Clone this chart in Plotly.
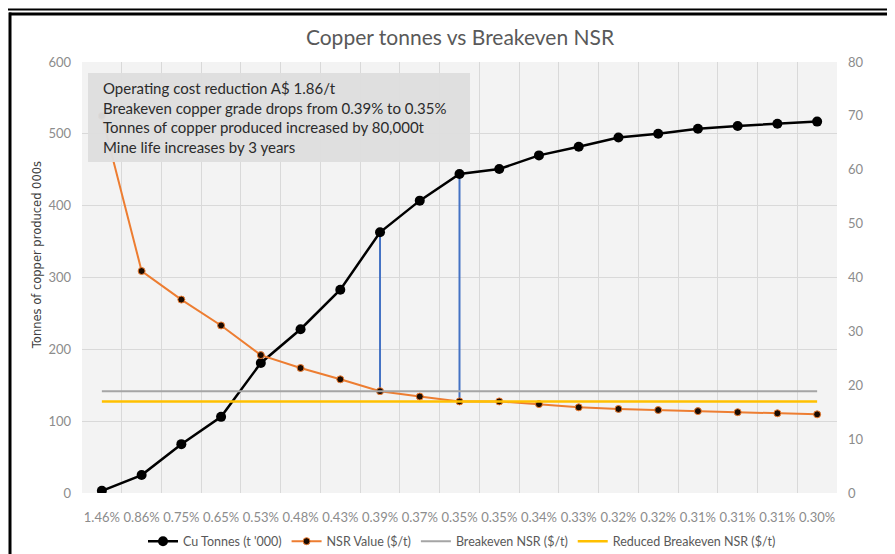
import plotly.graph_objects as go

grades = ["1.46%", "0.86%", "0.75%", "0.65%", "0.53%", "0.48%", "0.43%", "0.39%", "0.37%", "0.35%",
          "0.35%", "0.34%", "0.33%", "0.32%", "0.32%", "0.31%", "0.31%", "0.31%", "0.30%"]
cu_tonnes = [3, 25, 68, 106, 181, 228, 283, 363, 407, 444, 451, 470, 482, 495, 500, 507, 511, 514, 517]
nsr_value = [70, 41.2, 35.9, 31.1, 25.6, 23.2, 21.1, 18.9, 17.9, 17.0, 17.0, 16.5, 15.9, 15.6, 15.4, 15.2, 15.0, 14.8, 14.6]
breakeven_nsr = 18.9
reduced_nsr = 17.0
# grade points where the breakeven lines cross NSR (index into grades)
drop_idx = [7, 9]

x = list(range(len(grades)))

# page has an 8px body margin, so work in page pixels and shift
OFF = 8
W, H = 887, 560
L, R, T, B = 82 - OFF, W - (837 - OFF), 62 - OFF, H - (497 - OFF)
ratio = 600 / 80  # left axis units per right axis unit

def px(X):
    return (X - OFF - L) / (W - L - R)

def py(Y):
    return (H - B - (Y - OFF)) / (H - T - B)

fig = go.Figure()

# blue drop lines from NSR point up to Cu tonnes point
for i in drop_idx:
    fig.add_trace(go.Scatter(x=[x[i], x[i]], y=[nsr_value[i] * ratio, cu_tonnes[i]], mode='lines',
                             line=dict(color='#4472C4', width=2), showlegend=False, hoverinfo='skip'))

fig.add_trace(go.Scatter(x=x, y=cu_tonnes, mode='lines+markers', name="Cu Tonnes (t '000)",
                         line=dict(color='black', width=2.5), marker=dict(color='black', size=10)))
fig.add_trace(go.Scatter(x=x, y=nsr_value, mode='lines+markers', name="NSR Value ($/t)", yaxis='y2',
                         line=dict(color='#ED7D31', width=2),
                         marker=dict(color='#1a0a00', size=7, line=dict(color='#ED7D31', width=1))))
fig.add_trace(go.Scatter(x=x, y=[breakeven_nsr] * len(x), mode='lines', name="Breakeven NSR ($/t)", yaxis='y2',
                         line=dict(color='#A5A5A5', width=2)))
fig.add_trace(go.Scatter(x=x, y=[reduced_nsr] * len(x), mode='lines', name="Reduced Breakeven NSR ($/t)", yaxis='y2',
                         line=dict(color='#FFC000', width=2.5)))

tick_font = dict(family='Lato, sans-serif', size=13, color='#8c8c8c')

fig.update_layout(
    width=W, height=H,
    margin=dict(l=L, r=R, t=T, b=B),
    paper_bgcolor='white', plot_bgcolor='#f3f3f3',
    font=dict(family='Lato, sans-serif'),
    title=dict(text="Copper tonnes vs Breakeven NSR", x=px(460), xref='paper', xanchor='center',
               y=1 - (38 - OFF) / H, yanchor='middle', font=dict(size=21, color='#595959')),
    xaxis=dict(range=[-0.5, len(x) - 0.5], tickmode='array', tickvals=x, ticktext=grades,
               showgrid=False, zeroline=False, tickfont=tick_font, ticklabelstandoff=15,
               automargin=False,
               minor=dict(tickmode='array', tickvals=[i - 0.5 for i in range(len(x) + 1)],
                          showgrid=True, gridcolor='#d9d9d9', gridwidth=1)),
    yaxis=dict(range=[0, 600], dtick=100, gridcolor='#d9d9d9', zeroline=False, automargin=False,
               tickfont=tick_font, ticklabelstandoff=10),
    yaxis2=dict(range=[0, 80], dtick=10, overlaying='y', side='right', showgrid=False, zeroline=False,
                automargin=False, tickfont=tick_font, ticklabelstandoff=10),
    legend=dict(orientation='h', x=px(462), xanchor='center', y=py(546), yanchor='middle',
                font=dict(size=12.5, color='#595959'), bgcolor='rgba(0,0,0,0)'),
    showlegend=True,
)

fig.add_annotation(text="Tonnes of copper produced 000s", textangle=-90, xref='paper', yref='paper',
                   x=px(37), y=py(257), xanchor='center', yanchor='middle', showarrow=False,
                   font=dict(family='DejaVu Sans, sans-serif', size=11.5, color='#404040'))

# grey note box with the text on top
fig.add_shape(type='rect', xref='paper', yref='paper', x0=px(88), x1=px(470), y0=py(163), y1=py(73),
              fillcolor='rgba(222,222,222,0.96)', line=dict(width=0), layer='above')
fig.add_annotation(
    text=("Operating cost reduction A$ 1.86/t<br>Breakeven copper grade drops from 0.39% to 0.35%<br>"
          "Tonnes of copper produced increased by 80,000t<br>Mine life increases by 3 years"),
    xref='paper', yref='paper', x=px(101), y=py(118), xanchor='left', yanchor='middle',
    align='left', showarrow=False, font=dict(size=15, color='#2b2b2b'))

# screenshot frame
fig.add_shape(type='line', xref='paper', yref='paper', x0=px(0), x1=px(900), y0=py(9), y1=py(9),
              line=dict(color='black', width=2))
fig.add_shape(type='line', xref='paper', yref='paper', x0=px(9), x1=px(900), y0=py(13.5), y1=py(13.5),
              line=dict(color='black', width=3))
fig.add_shape(type='line', xref='paper', yref='paper', x0=px(10), x1=px(10), y0=py(12), y1=py(570),
              line=dict(color='black', width=3))
fig.add_shape(type='path', xref='paper', yref='paper',
              path=f"M {px(849)} {py(0)} L {px(887)} {py(0)} L {px(887)} {py(4)} L {px(843)} {py(4)} Z",
              fillcolor='#9b59b6', line=dict(width=0))

fig.write_html("out.html")
